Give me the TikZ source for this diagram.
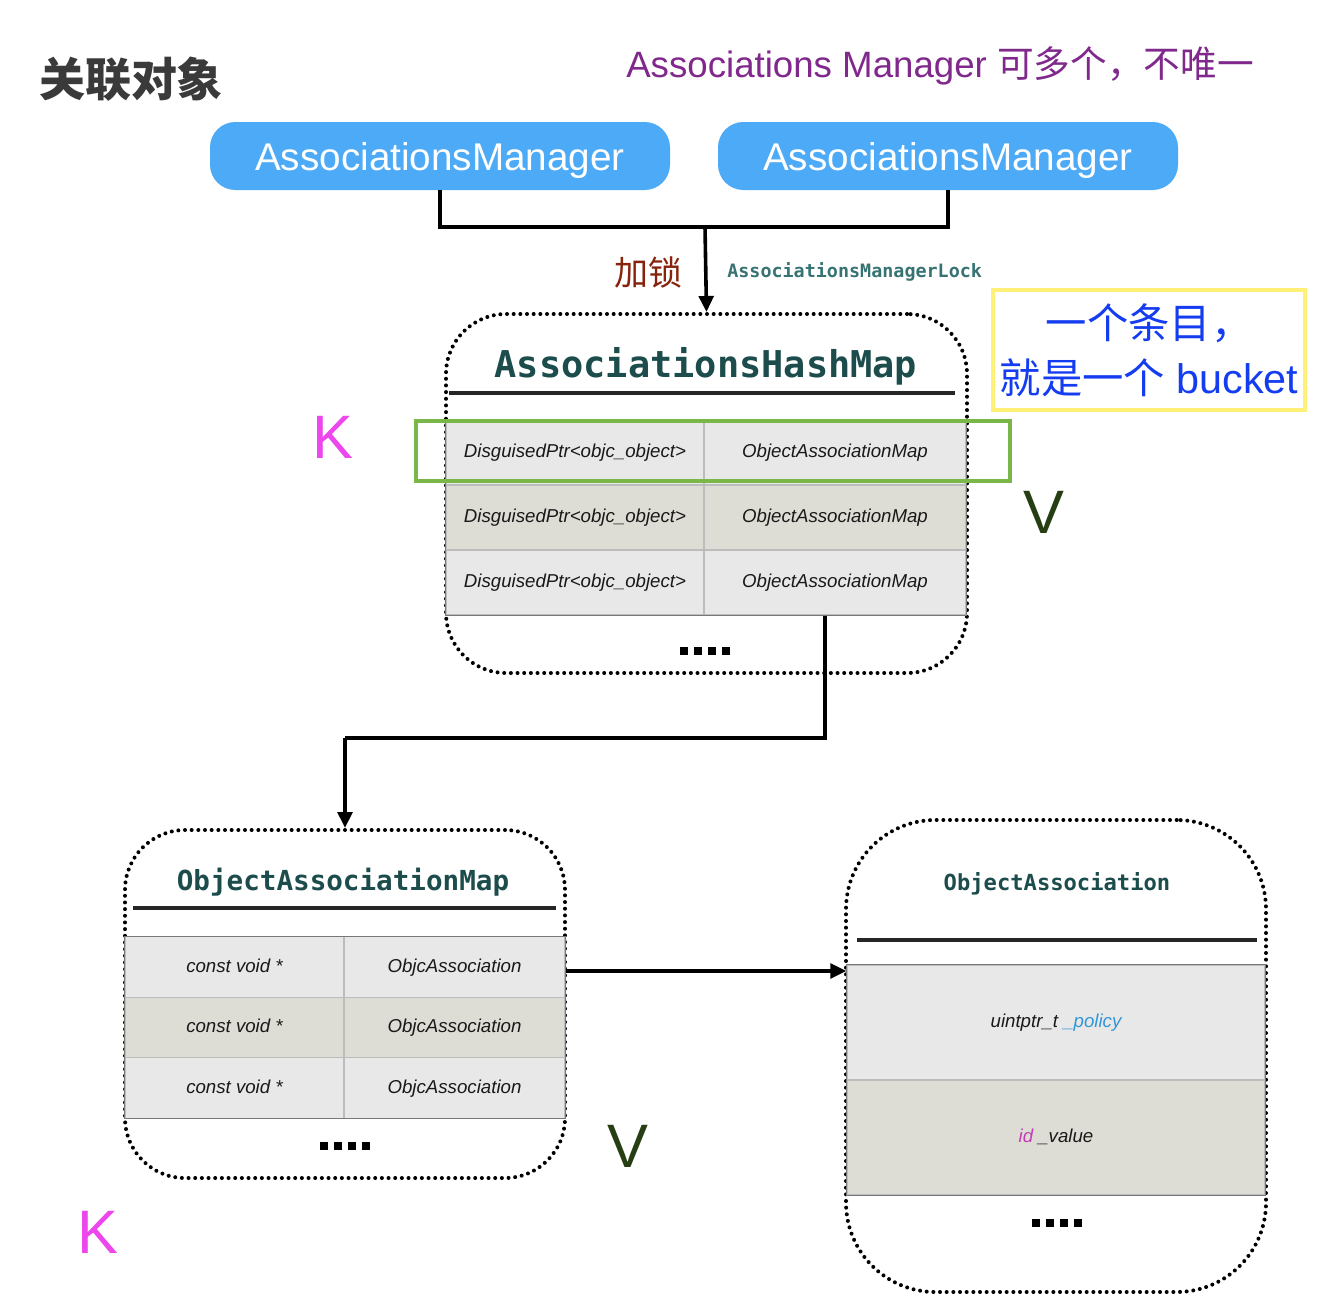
\documentclass[tikz,border=0pt]{standalone}
\usepackage{fontspec}
\setmainfont{Liberation Sans}
\setmonofont{DejaVu Sans Mono}
\newfontfamily\cjk{Noto Sans CJK SC}
\usetikzlibrary{arrows.meta}

\definecolor{btnblue}{RGB}{77,170,247}
\definecolor{titlegray}{RGB}{58,58,58}
\definecolor{notepurple}{RGB}{128,40,140}
\definecolor{lockred}{RGB}{135,35,12}
\definecolor{locktealc}{RGB}{55,115,115}
\definecolor{headteal}{RGB}{28,76,76}
\definecolor{rowlight}{RGB}{232,232,232}
\definecolor{rowdark}{RGB}{222,221,213}
\definecolor{gridgray}{RGB}{188,188,188}
\definecolor{edgegray}{RGB}{120,120,120}
\definecolor{keygreen}{RGB}{122,182,72}
\definecolor{noteyellow}{RGB}{255,240,120}
\definecolor{noteblue}{RGB}{20,60,240}
\definecolor{kmagenta}{RGB}{236,70,236}
\definecolor{vgreen}{RGB}{38,62,20}
\definecolor{policyblue}{RGB}{50,150,215}
\definecolor{idmagenta}{RGB}{195,60,180}

\newcommand{\blockdots}{\rule{6pt}{6pt}\hspace{4.5pt}\rule{6pt}{6pt}\hspace{4.5pt}\rule{6pt}{6pt}\hspace{4.5pt}\rule{6pt}{6pt}}

\begin{document}
\begin{tikzpicture}[x=0.75pt,y=-0.75pt,
  btn/.style={fill=btnblue, text=white, rounded corners=19pt, inner sep=0,
    minimum width=345pt, minimum height=51pt, text depth=0pt,
    font=\fontsize{29}{34}\selectfont},
  conn/.style={line width=2.7pt, draw=black},
  tip/.style={-{Triangle[width=11pt,length=12pt]}},
  dotbox/.style={draw=black, line width=3pt, line cap=round,
    dash pattern=on 0pt off 5pt, inner sep=0},
  boxtitle/.style={text=headteal, font=\ttfamily\bfseries, inner sep=0},
  rule/.style={line width=2.7pt, draw=black!85},
  cell/.style={draw=gridgray, line width=0.9pt, inner sep=0, text=black!90,
    text height=10pt, text depth=2.5pt,
    font=\itshape\fontsize{14}{16}\selectfont},
  light/.style={cell, fill=rowlight},
  dark/.style={cell, fill=rowdark},
  more/.style={inner sep=0, text=black},
  kv/.style={inner sep=0, font=\fontsize{46}{50}\selectfont}
]
\useasboundingbox (0,0) rectangle (1332,1310);
\fill[white] (0,0) rectangle (1332,1310);

% heading and remark
\node[inner sep=0, text=titlegray, font=\cjk\bfseries\fontsize{34.5}{40}\selectfont] (title) at (131,79) {关联对象};
\node[inner sep=0, anchor=west, text=notepurple, font=\fontsize{27.5}{32}\selectfont] (note) at (626,66)
  {Associations Manager {\cjk 可多个，不唯一}};

% managers
\node[btn] (mgrA) at (440,156) {AssociationsManager};
\node[btn] (mgrB) at (948,156) {AssociationsManager};
\coordinate (join) at (705,227);
\draw[conn] (mgrA.south) |- (join) -| (mgrB.south);

% hash map container
\node[dotbox, rounded corners=45pt, minimum width=390.75pt, minimum height=269.25pt] (hashmap) at (706.5,493.5) {};
\draw[conn,tip] (join) -- (hashmap.north);
\node[inner sep=0, text=lockred, font=\cjk\fontsize{25.5}{30}\selectfont] (lockcn) at (648,272) {加锁};
\node[inner sep=0, anchor=west, text=locktealc, font=\ttfamily\bfseries\fontsize{13.8}{16}\selectfont] (lockname) at (727,272) {AssociationsManagerLock};

\node[boxtitle, font=\ttfamily\bfseries\fontsize{27.7}{32}\selectfont] (hmtitle) at (706,366) {AssociationsHashMap};
\coordinate (hmruleA) at (449,393);
\coordinate (hmruleB) at (955,393);
\draw[rule] (hmruleA) -- (hmruleB);

\node[light, minimum width=193.5pt, minimum height=48.75pt] (hk1) at (575,452.5) {DisguisedPtr<objc\_object>};
\node[light, minimum width=196.5pt, minimum height=48.75pt] (hv1) at (835,452.5) {ObjectAssociationMap};
\node[dark,  minimum width=193.5pt, minimum height=48.75pt] (hk2) at (575,517.5) {DisguisedPtr<objc\_object>};
\node[dark,  minimum width=196.5pt, minimum height=48.75pt] (hv2) at (835,517.5) {ObjectAssociationMap};
\node[light, minimum width=193.5pt, minimum height=48.75pt] (hk3) at (575,582.5) {DisguisedPtr<objc\_object>};
\node[light, minimum width=196.5pt, minimum height=48.75pt] (hv3) at (835,582.5) {ObjectAssociationMap};
\draw[edgegray, line width=1pt] (hk1.north west) rectangle (hv3.south east);
\node[more] (hmmore) at (705,651) {\blockdots};

% one bucket highlighted
\node[draw=keygreen, line width=2.6pt, inner sep=0, minimum width=445.5pt, minimum height=45pt] (bucket) at (713,451) {};
\node[draw=noteyellow, line width=3pt, inner sep=0, minimum width=234pt, minimum height=90pt,
  align=center, text=noteblue, font=\fontsize{31}{41}\selectfont] (bucketnote) at (1149,350)
  {{\cjk 一个条目，}\\{\cjk 就是一个} bucket};
\node[kv, text=kmagenta] (k1) at (333,437) {K};
\node[kv, text=vgreen] (v1) at (1044,512) {V};

% object association map container
\node[dotbox, rounded corners=45pt, minimum width=330pt, minimum height=261pt] (oamap) at (345,1004) {};
\coordinate (turn) at (345,738);
\draw[conn] ([xshift=-7.5pt]hv3.south) |- (turn);
\draw[conn,tip] (turn) -- (oamap.north);

\node[boxtitle, font=\ttfamily\bfseries\fontsize{20.7}{24}\selectfont] (oamtitle) at (343,882) {ObjectAssociationMap};
\coordinate (oamruleA) at (133,908);
\coordinate (oamruleB) at (556,908);
\draw[rule] (oamruleA) -- (oamruleB);

\node[light, minimum width=164.25pt, minimum height=45.25pt] (ok1) at (234.5,967) {const void *};
\node[light, minimum width=165.75pt, minimum height=45.25pt] (ov1) at (454.5,967) {ObjcAssociation};
\node[dark,  minimum width=164.25pt, minimum height=45.25pt] (ok2) at (234.5,1027.5) {const void *};
\node[dark,  minimum width=165.75pt, minimum height=45.25pt] (ov2) at (454.5,1027.5) {ObjcAssociation};
\node[light, minimum width=164.25pt, minimum height=45.25pt] (ok3) at (234.5,1088) {const void *};
\node[light, minimum width=165.75pt, minimum height=45.25pt] (ov3) at (454.5,1088) {ObjcAssociation};
\draw[edgegray, line width=1pt] (ok1.north west) rectangle (ov3.south east);
\node[more] (oammore) at (345,1146) {\blockdots};
\node[kv, text=vgreen] (v2) at (628,1146) {V};
\node[kv, text=kmagenta] (k2) at (98,1232) {K};

% object association container
\node[dotbox, rounded corners=67pt, minimum width=315pt, minimum height=354pt] (oa) at (1056,1056) {};
\node[boxtitle, font=\ttfamily\bfseries\fontsize{16.6}{20}\selectfont] (oatitle) at (1057,884) {ObjectAssociation};
\coordinate (oaruleA) at (857,940);
\coordinate (oaruleB) at (1257,940);
\draw[rule] (oaruleA) -- (oaruleB);

\node[light, minimum width=313.5pt, minimum height=86.25pt] (pol) at (1056,1022.5)
  {uintptr\_t \textcolor{policyblue}{\_policy}};
\node[dark, minimum width=313.5pt, minimum height=86.25pt] (val) at (1056,1137.5)
  {\textcolor{idmagenta}{id} \_value};
\draw[edgegray, line width=1pt] (pol.north west) rectangle (val.south east);
\node[more] (oamore) at (1057,1223) {\blockdots};

\draw[conn,tip] ([yshift=-3pt]ov1.east) -- ([yshift=-3pt]ov1.east -| pol.west);
\end{tikzpicture}
\end{document}
